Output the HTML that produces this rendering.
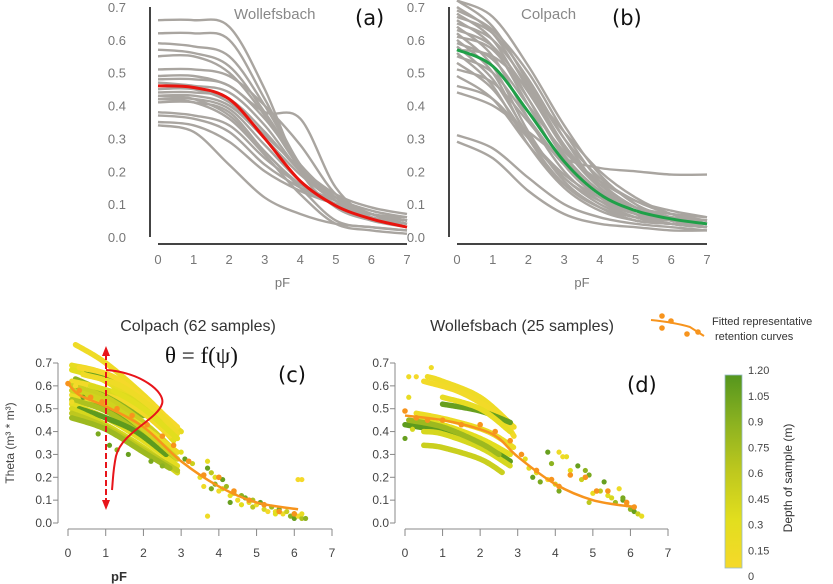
<!DOCTYPE html>
<html><head><meta charset="utf-8">
<style>
body{margin:0;background:#fff;}
svg{display:block;font-family:"Liberation Sans",sans-serif;}
</style></head>
<body>
<svg id="fig" width="833" height="584" viewBox="0 0 833 584">
<g id="pa"></g>
<g id="pb"></g>
<g id="pc"></g>
<g id="pd"></g>
<g id="leg"></g>
</svg>
<script>
// ---------- data ----------
const pfGrid = [0,1,2,3,4,5,6,7];
const wollefsGray = [
[0.66,0.66,0.64,0.45,0.2,0.09,0.05,0.03],
[0.62,0.62,0.60,0.42,0.22,0.11,0.06,0.04],
[0.59,0.58,0.55,0.40,0.22,0.11,0.06,0.04],
[0.57,0.56,0.52,0.38,0.22,0.12,0.07,0.05],
[0.55,0.55,0.50,0.37,0.21,0.12,0.07,0.05],
[0.51,0.51,0.49,0.40,0.28,0.13,0.07,0.04],
[0.49,0.49,0.46,0.38,0.36,0.15,0.06,0.04],
[0.48,0.48,0.46,0.36,0.22,0.12,0.07,0.05],
[0.47,0.46,0.44,0.34,0.20,0.11,0.07,0.05],
[0.44,0.44,0.42,0.32,0.20,0.12,0.08,0.06],
[0.43,0.43,0.40,0.30,0.19,0.11,0.07,0.05],
[0.42,0.42,0.39,0.28,0.17,0.10,0.06,0.04],
[0.41,0.41,0.38,0.26,0.16,0.10,0.07,0.05],
[0.43,0.42,0.37,0.26,0.15,0.05,0.03,0.02],
[0.38,0.37,0.34,0.24,0.16,0.11,0.07,0.06],
[0.37,0.36,0.32,0.22,0.15,0.10,0.07,0.05],
[0.35,0.34,0.29,0.20,0.14,0.10,0.07,0.05],
[0.34,0.32,0.22,0.12,0.07,0.04,0.03,0.02],
[0.42,0.41,0.36,0.25,0.13,0.04,0.02,0.01],
[0.45,0.45,0.41,0.31,0.21,0.13,0.09,0.07]];
const wollefsRep = [0.46,0.455,0.42,0.30,0.17,0.095,0.055,0.03];
const colpachGray = [
[0.70,0.62,0.45,0.28,0.16,0.09,0.06,0.04],
[0.69,0.63,0.50,0.32,0.17,0.09,0.05,0.03],
[0.68,0.60,0.42,0.24,0.13,0.07,0.05,0.03],
[0.67,0.62,0.48,0.30,0.15,0.07,0.04,0.03],
[0.66,0.58,0.40,0.22,0.12,0.07,0.04,0.03],
[0.65,0.60,0.46,0.28,0.15,0.08,0.05,0.04],
[0.64,0.55,0.36,0.20,0.11,0.06,0.04,0.03],
[0.63,0.58,0.44,0.27,0.15,0.09,0.06,0.05],
[0.62,0.52,0.32,0.17,0.09,0.05,0.04,0.03],
[0.61,0.57,0.42,0.25,0.14,0.08,0.05,0.04],
[0.60,0.50,0.30,0.16,0.09,0.06,0.05,0.04],
[0.59,0.54,0.40,0.26,0.17,0.11,0.08,0.06],
[0.58,0.48,0.31,0.18,0.11,0.07,0.06,0.05],
[0.57,0.55,0.45,0.32,0.20,0.12,0.07,0.05],
[0.56,0.46,0.28,0.15,0.08,0.05,0.04,0.03],
[0.55,0.50,0.36,0.22,0.14,0.09,0.07,0.06],
[0.53,0.45,0.30,0.18,0.10,0.06,0.04,0.03],
[0.51,0.47,0.35,0.22,0.13,0.08,0.06,0.05],
[0.49,0.42,0.28,0.16,0.09,0.05,0.04,0.03],
[0.46,0.42,0.30,0.19,0.12,0.08,0.06,0.05],
[0.44,0.40,0.32,0.24,0.21,0.20,0.19,0.19],
[0.31,0.27,0.18,0.10,0.06,0.04,0.03,0.02],
[0.29,0.24,0.14,0.07,0.04,0.03,0.02,0.02],
[0.72,0.67,0.52,0.34,0.19,0.10,0.06,0.04],
[0.72,0.64,0.47,0.30,0.18,0.11,0.07,0.05]];
const colpachRep = [0.57,0.52,0.38,0.23,0.13,0.08,0.055,0.04];
const topYTicks = [0,0.1,0.2,0.3,0.4,0.5,0.6,0.7];
const topXTicks = [0,1,2,3,4,5,6,7];

// panel c: sample lines [depth, points]
const cLineDepth = [0.1,0.2,0.3,1.1,0.9,0.05,0.5,1.0,0.15,0.7,0.25,1.15,0.4,0.6,0.2,0.35,0.0,0.45,0.1,0.8,0.3];
const cLinePts = [
[[0.2,0.78],[1,0.70],[2,0.56],[2.8,0.43]],
[[0.1,0.69],[1,0.65],[2,0.53],[2.9,0.40]],
[[0.1,0.67],[1,0.62],[2,0.50],[2.8,0.36]],
[[0.5,0.66],[1,0.64],[1.5,0.58]],
[[0.2,0.63],[1,0.57],[2,0.47]],
[[0.1,0.62],[1,0.58],[2,0.48],[2.7,0.38]],
[[0.1,0.60],[1,0.55],[2,0.44],[2.8,0.32]],
[[0.2,0.58],[1,0.50],[2,0.40],[2.5,0.34]],
[[0.1,0.56],[1,0.52],[2,0.42],[2.9,0.31]],
[[0.1,0.54],[1,0.49],[2,0.38],[2.8,0.27]],
[[0.1,0.52],[1,0.46],[2,0.36],[2.9,0.25]],
[[0.3,0.50],[1,0.46],[1.8,0.40],[2.6,0.30]],
[[0.1,0.50],[1,0.43],[2,0.33],[2.9,0.22]],
[[0.1,0.48],[1,0.42],[2,0.32],[2.9,0.23]],
[[1,0.62],[2,0.52],[3,0.40]],
[[0.6,0.60],[1.6,0.55],[2.6,0.45]],
[[0.3,0.68],[1.2,0.64],[2.2,0.52],[2.9,0.42]],
[[0.1,0.58],[1,0.53],[2,0.41],[2.9,0.28]],
[[0.4,0.65],[1.4,0.60],[2.4,0.48],[2.9,0.39]],
[[0.1,0.46],[1,0.41],[2,0.31],[2.7,0.24]],
[[1.2,0.58],[2,0.50],[2.9,0.37]]];
const cRep = [[0,0.61],[0.3,0.56],[1,0.51],[2,0.42],[3,0.27],[4,0.16],[5,0.09],[6.1,0.06]];
const cDotPF = [0.1,0.2,0.4,0.8,1.1,1.3,1.6,2.2,2.5,3.0,3.1,3.3,3.6,3.7,3.7,3.8,3.8,3.9,3.9,4.0,4.1,4.1,4.2,4.3,4.3,4.4,4.5,4.6,4.6,4.7,4.8,4.9,5.0,5.1,5.2,5.3,5.4,5.5,5.6,5.7,5.8,5.9,6.0,6.0,6.1,6.2,6.2,6.3,3.7,6.1,6.2,3.5,4.9,5.5];
const cDotTh = [0.53,0.60,0.55,0.39,0.34,0.32,0.30,0.27,0.25,0.31,0.28,0.26,0.16,0.27,0.24,0.22,0.15,0.20,0.17,0.14,0.19,0.15,0.16,0.12,0.09,0.13,0.10,0.12,0.08,0.11,0.09,0.07,0.08,0.09,0.06,0.05,0.07,0.05,0.06,0.04,0.05,0.03,0.04,0.02,0.03,0.02,0.04,0.02,0.03,0.19,0.19,0.20,0.10,0.04];
const cDotDepth = [0.1,0.0,1.1,1.0,1.1,0.9,1.1,1.0,0.9,0.3,1.1,0.5,0.1,0.2,1.1,0.6,1.0,0.3,0.9,0.1,1.1,0.4,0.8,0.2,1.1,0.5,0.1,0.9,0.3,1.0,0.2,0.6,0.1,1.1,0.4,0.0,0.8,0.2,1.0,0.1,0.5,0.9,0.3,1.1,0.0,0.7,0.2,0.9,0.1,0.0,0.0,0.2,0.7,0.3];
const cOrangePF = [0,0.3,0.6,0.9,1.3,1.7,2.1,2.5,2.8,3.2,3.6,4.0,4.4,4.8,5.2,5.6,6.0];
const cOrangeTh = [0.61,0.58,0.55,0.53,0.50,0.47,0.43,0.38,0.34,0.27,0.21,0.20,0.14,0.10,0.08,0.05,0.04];

// panel d
const dLineDepth = [0.1,0.05,1.1,0.2,1.15,0.4,0.5,0.3,0.8,0.15];
const dLinePts = [
[[0.6,0.64],[1,0.62],[2,0.55],[2.9,0.42]],
[[0.5,0.62],[1.5,0.57],[2.5,0.47],[2.9,0.38]],
[[1,0.52],[2,0.49],[2.8,0.44]],
[[1,0.55],[2,0.50],[2.8,0.40]],
[[0,0.43],[1,0.40],[2,0.35],[2.8,0.27]],
[[0.5,0.40],[1,0.39],[2,0.33],[2.8,0.25]],
[[0.5,0.34],[1,0.33],[2,0.28],[2.6,0.22]],
[[0.3,0.45],[1,0.43],[2,0.37],[2.8,0.30]],
[[0.1,0.45],[1,0.42],[2,0.35],[2.5,0.30]],
[[0.3,0.48],[1.2,0.45],[2.2,0.40],[2.9,0.33]]];
const dRep = [[0,0.47],[1,0.45],[2,0.41],[2.5,0.37],[3,0.29],[4,0.17],[5,0.10],[6.1,0.07]];
const dDotPF = [0.0,0.1,0.3,0.7,0.1,0.2,3.2,3.3,3.4,3.5,3.6,3.8,3.8,3.9,4.0,4.1,4.1,4.3,4.4,4.6,4.7,4.8,4.9,5.0,5.1,5.2,5.3,5.4,5.5,5.6,5.7,5.8,5.9,6.0,6.1,6.2,6.3,4.2,4.9,5.8];
const dDotTh = [0.37,0.64,0.64,0.68,0.55,0.41,0.28,0.24,0.20,0.22,0.18,0.31,0.19,0.26,0.17,0.31,0.14,0.29,0.23,0.25,0.19,0.23,0.21,0.13,0.14,0.14,0.18,0.12,0.11,0.09,0.15,0.10,0.08,0.06,0.05,0.04,0.03,0.29,0.09,0.11];
const dDotDepth = [1.1,0.1,0.0,0.1,0.2,0.4,0.3,0.2,1.1,0.3,1.0,1.1,0.0,0.9,0.4,0.1,1.0,0.2,0.3,1.1,0.5,0.9,1.0,0.2,0.1,0.6,1.1,0.3,0.4,0.8,0.1,1.1,0.3,0.9,1.1,0.5,0.2,0.1,0.6,1.0];
const dOrangePF = [0,0.3,0.6,1.0,1.5,2.0,2.4,2.8,3.1,3.5,3.9,4.1,4.4,4.8,5.1,5.4,5.9,6.1];
const dOrangeTh = [0.49,0.46,0.45,0.45,0.43,0.43,0.40,0.36,0.30,0.23,0.19,0.16,0.21,0.20,0.14,0.14,0.09,0.07];
const bottomYTicks = ["0.0","0.1","0.2","0.3","0.4","0.5","0.6","0.7"];
const colorbarTicks = ["0","0.15","0.3","0.45","0.6","0.75","0.9","1.05","1.20"];

// ---------- helpers ----------
const NS="http://www.w3.org/2000/svg";
function mk(parent,tag,attrs,txt){const e=document.createElementNS(NS,tag);for(const k in attrs)e.setAttribute(k,attrs[k]);if(txt!==undefined)e.textContent=txt;parent.appendChild(e);return e;}
function smooth(pts){let d="M"+pts[0][0]+","+pts[0][1];for(let i=0;i<pts.length-1;i++){const p0=pts[Math.max(0,i-1)],p1=pts[i],p2=pts[i+1],p3=pts[Math.min(pts.length-1,i+2)];const c1x=p1[0]+(p2[0]-p0[0])/6,c1y=p1[1]+(p2[1]-p0[1])/6,c2x=p2[0]-(p3[0]-p1[0])/6,c2y=p2[1]-(p3[1]-p1[1])/6;d+=" C"+c1x+","+c1y+" "+c2x+","+c2y+" "+p2[0]+","+p2[1];}return d;}
function depthColor(v){const stops=[[0,[245,217,42]],[0.3,[226,222,30]],[0.6,[190,200,30]],[0.9,[140,178,32]],[1.2,[85,150,30]]];for(let i=0;i<stops.length-1;i++){if(v<=stops[i+1][0]){const t=(v-stops[i][0])/(stops[i+1][0]-stops[i][0]);const c=stops[i][1].map((a,j)=>Math.round(a+(stops[i+1][1][j]-a)*t));return "rgb("+c.join(",")+")";}}return "rgb(85,150,30)";}

// ---------- top panels ----------
function topPanel(g,x0,x7,axisX,title,titleX,lab,labX,gray,rep,repColor){
  const xs=v=>x0+(x7-x0)*v/7, ys=v=>237-v*(230/0.7);
  mk(g,"line",{x1:axisX,y1:7,x2:axisX,y2:237,stroke:"#444","stroke-width":2,});
  mk(g,"line",{x1:x0,y1:244,x2:x7,y2:244,stroke:"#444","stroke-width":2,});
  topYTicks.forEach(v=>{const t=mk(g,"text",{x:axisX-24,y:ys(v)+5,"text-anchor":"end","font-size":13,fill:"#777"},v.toFixed(1));});
  topXTicks.forEach(v=>{const t=mk(g,"text",{x:xs(v),y:264,"text-anchor":"middle","font-size":13,fill:"#777"},v);});
  const xt=mk(g,"text",{x:(x0+x7)/2,y:287,"text-anchor":"middle","font-size":13,fill:"#777"},"pF");
  const cg=mk(g,"g",{"clip-path":"url(#clipTop)"});
  gray.forEach(c=>{const p=mk(cg,"path",{d:smooth(c.map((v,i)=>[xs(pfGrid[i]),ys(v)])),fill:"none",stroke:"#a9a5a0","stroke-width":2.4});});
  const r=mk(g,"path",{d:smooth(rep.map((v,i)=>[xs(pfGrid[i]),ys(v)])),fill:"none",stroke:repColor,"stroke-width":3});
  const tt=mk(g,"text",{x:titleX,y:19,"font-size":15,fill:"#888"},title);
  const ll=mk(g,"text",{x:labX,y:25,"font-size":21,fill:"#111","font-family":"DejaVu Sans, sans-serif"},lab);
}
const defs=mk(document.getElementById("fig"),"defs",{});
const cp=mk(defs,"clipPath",{id:"clipTop"});mk(cp,"rect",{x:0,y:0,width:833,height:240});
topPanel(document.getElementById("pa"),158,407,150,"Wollefsbach",234,"(a)",355,wollefsGray,wollefsRep,"#e8140e");
topPanel(document.getElementById("pb"),457,707,449,"Colpach",521,"(b)",612,colpachGray,colpachRep,"#1fa048");

// ---------- bottom panels ----------
function bottomPanel(g,axisX,x0,x7,lines,lineDepth,rep,dPF,dTh,dDep,oPF,oTh){
  const xs=v=>x0+(x7-x0)*v/7, ys=v=>523-v*(160/0.7);
  mk(g,"line",{x1:axisX,y1:363,x2:axisX,y2:523,stroke:"#888","stroke-width":1,});
  mk(g,"line",{x1:x0,y1:529,x2:x7,y2:529,stroke:"#888","stroke-width":1,});
  bottomYTicks.forEach((s,i)=>{const y=ys(i/10);mk(g,"line",{x1:axisX-5,y1:y,x2:axisX,y2:y,stroke:"#888"});const t=mk(g,"text",{x:axisX-6,y:y+4,"text-anchor":"end","font-size":12,fill:"#444"},s);});
  topXTicks.forEach(v=>{mk(g,"line",{x1:xs(v),y1:529,x2:xs(v),y2:536,stroke:"#888"});const t=mk(g,"text",{x:xs(v),y:557,"text-anchor":"middle","font-size":12,fill:"#444"},v);});
  lines.forEach((pts,i)=>{const p=mk(g,"path",{d:smooth(pts.map(q=>[xs(q[0]),ys(q[1])])),fill:"none",stroke:depthColor(lineDepth[i]),"stroke-width":5.5,"stroke-linecap":"round","stroke-dasharray":"4 1"});});
  dPF.forEach((v,i)=>{const c=mk(g,"circle",{cx:xs(v),cy:ys(dTh[i]),r:2.6,fill:depthColor(dDep[i])});});
  oPF.forEach((v,i)=>{const c=mk(g,"circle",{cx:xs(v),cy:ys(oTh[i]),r:2.8,fill:"#f7941d"});});
  const r=mk(g,"path",{d:smooth(rep.map(q=>[xs(q[0]),ys(q[1])])),fill:"none",stroke:"#f7941d","stroke-width":2.5});
}
const pc=document.getElementById("pc"), pd=document.getElementById("pd");
bottomPanel(pc,58,68,332,cLinePts,cLineDepth,cRep,cDotPF,cDotTh,cDotDepth,cOrangePF,cOrangeTh);
bottomPanel(pd,395,405,668,dLinePts,dLineDepth,dRep,dDotPF,dDotTh,dDotDepth,dOrangePF,dOrangeTh);
</script>
<script>
const F=document.getElementById("fig");
const a=F.querySelector("#pc");
function T(p,attrs,txt,name){const e=document.createElementNS("http://www.w3.org/2000/svg","text");for(const k in attrs)e.setAttribute(k,attrs[k]);e.textContent=txt;


p.appendChild(e);return e;}
T(a,{x:198,y:331,"text-anchor":"middle","font-size":16,fill:"#333"},"Colpach (62 samples)","panel-c-title");
T(a,{x:0,y:0,transform:"translate(14,443) rotate(-90)","text-anchor":"middle","font-size":12,fill:"#444"},"Theta (m³ * m³)","y-axis-title");
T(a,{x:119,y:581,"text-anchor":"middle","font-size":13,"font-weight":"bold",fill:"#333"},"pF","x-axis-title");
T(a,{x:165,y:363,"font-size":23,"font-family":"Liberation Serif, serif",fill:"#111"},"θ = f(ψ)","equation");
T(a,{x:278,y:382,"font-size":21,"font-family":"DejaVu Sans, sans-serif",fill:"#111"},"(c)","panel-label");
const ns="http://www.w3.org/2000/svg";
const arr=document.createElementNS(ns,"g");


arr.innerHTML='<line x1="106" y1="354" x2="106" y2="502" stroke="#e8141a" stroke-width="2" stroke-dasharray="6 3"/><polygon points="106,346 102,356 110,356" fill="#e8141a"/><polygon points="106,510 102,500 110,500" fill="#e8141a"/>';
a.appendChild(arr);
const dist=document.createElementNS(ns,"path");


dist.setAttribute("d","M106,370 C140,372 166,392 162,404 C157,420 122,432 116,456 C113,470 113,480 112,490");
dist.setAttribute("fill","none");dist.setAttribute("stroke","#e8141a");dist.setAttribute("stroke-width","2");
a.appendChild(dist);
const b=F.querySelector("#pd");
T(b,{x:522,y:331,"text-anchor":"middle","font-size":16,fill:"#333"},"Wollefsbach (25 samples)","panel-d-title");
T(b,{x:627,y:392,"font-size":21,"font-family":"DejaVu Sans, sans-serif",fill:"#111"},"(d)","panel-label");
const L=F.querySelector("#leg");
L.innerHTML='<path d="M651,320 C670,322 680,324 690,327 L704,336" fill="none" stroke="#f7941d" stroke-width="2"/><circle cx="662" cy="316" r="2.8" fill="#f7941d"/><circle cx="671" cy="321" r="2.8" fill="#f7941d"/><circle cx="662" cy="328" r="2.8" fill="#f7941d"/><circle cx="687" cy="334" r="2.8" fill="#f7941d"/><circle cx="698" cy="332" r="2.8" fill="#f7941d"/>';
T(L,{x:712,y:325,"font-size":11,fill:"#333"},"Fitted representative","legend-label");
T(L,{x:715,y:340,"font-size":11,fill:"#333"},"retention curves","legend-label");
const grad=document.createElementNS(ns,"linearGradient");
grad.setAttribute("id","cbg");grad.setAttribute("x1","0");grad.setAttribute("y1","1");grad.setAttribute("x2","0");grad.setAttribute("y2","0");
[[0,"rgb(245,217,42)"],[0.25,"rgb(226,222,30)"],[0.5,"rgb(190,200,30)"],[0.75,"rgb(140,178,32)"],[1,"rgb(85,150,30)"]].forEach(s=>{const st=document.createElementNS(ns,"stop");st.setAttribute("offset",s[0]);st.setAttribute("stop-color",s[1]);grad.appendChild(st);});
F.querySelector("defs").appendChild(grad);
const cb=document.createElementNS(ns,"rect");


cb.setAttribute("x",725);cb.setAttribute("y",375);cb.setAttribute("width",17);cb.setAttribute("height",193);cb.setAttribute("fill","url(#cbg)");cb.setAttribute("stroke","#9bc");cb.setAttribute("stroke-width","0.8");
L.appendChild(cb);
colorbarTicks.forEach((s,i)=>{T(L,{x:748,y:580-i*(206/8),"font-size":11,fill:"#444"},s,"colorbar-tick-label");});
T(L,{x:0,y:0,transform:"translate(792,478) rotate(-90)","text-anchor":"middle","font-size":12,fill:"#333"},"Depth of sample (m)","colorbar-title");
</script>
</body></html>
